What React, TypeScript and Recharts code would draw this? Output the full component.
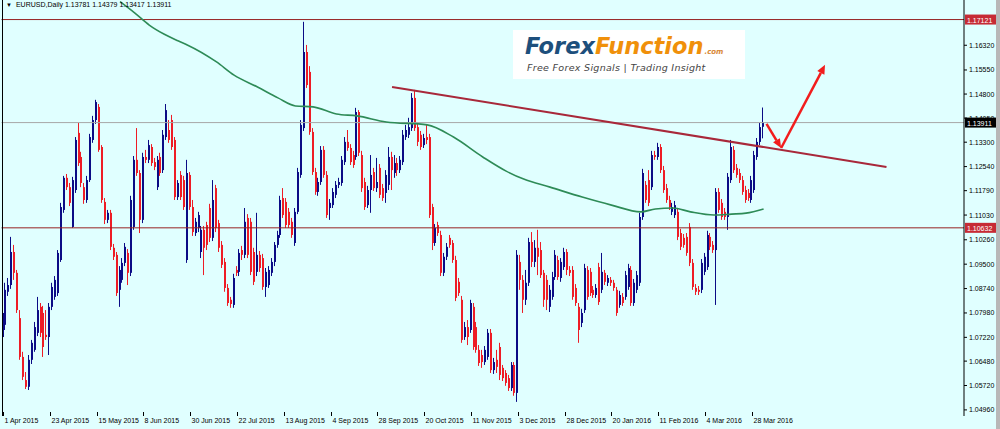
import { Bar, ComposedChart, Line, ReferenceLine, XAxis, YAxis } from "recharts";

// EURUSD daily, 1 Apr 2015 .. 1 Apr 2016 (one entry per trading day)
const OPEN = [
  1.0723, 1.0761, 1.0864, 1.0885, 1.0988, 1.0923, 1.0782, 1.0661, 1.0589, 1.0568,
  1.0652, 1.0683, 1.0736, 1.0817, 1.0798, 1.0730, 1.0723, 1.0817, 1.0848, 1.0860,
  1.0963, 1.1119, 1.1219, 1.1190, 1.1066, 1.1181, 1.1359, 1.1284, 1.1190, 1.1150,
  1.1212, 1.1337, 1.1399, 1.1440, 1.1315, 1.1144, 1.1088, 1.1110, 1.1001, 1.0979,
  1.0870, 1.0901, 1.0954, 1.0985, 1.0923, 1.1066, 1.1275, 1.1234, 1.1088, 1.1284,
  1.1275, 1.1315, 1.1268, 1.1190, 1.1284, 1.1243, 1.1346, 1.1368, 1.1399, 1.1337,
  1.1159, 1.1228, 1.1212, 1.0963, 1.1228, 1.1128, 1.1047, 1.1063, 1.0988, 1.1057,
  1.1072, 1.1125, 1.1032, 1.1187, 1.1078, 1.1010, 1.0957, 1.0876, 1.0839, 1.0823,
  1.0932, 1.0926, 1.0994, 1.0979, 1.1094, 1.1082, 1.0988, 1.0926, 1.0979, 1.0969,
  1.0879, 1.0885, 1.0923, 1.0957, 1.1010, 1.1041, 1.1156, 1.1144, 1.1113, 1.1082,
  1.1016, 1.1113, 1.1228, 1.1374, 1.1611, 1.1549, 1.1362, 1.1237, 1.1175, 1.1206,
  1.1306, 1.1228, 1.1125, 1.1134, 1.1166, 1.1197, 1.1203, 1.1268, 1.1331, 1.1312,
  1.1290, 1.1284, 1.1424, 1.1290, 1.1206, 1.1134, 1.1181, 1.1237, 1.1187, 1.1250,
  1.1187, 1.1172, 1.1197, 1.1284, 1.1234, 1.1265, 1.1243, 1.1268, 1.1346, 1.1353,
  1.1374, 1.1468, 1.1377, 1.1353, 1.1321, 1.1346, 1.1346, 1.1128, 1.1016, 1.1072,
  1.1041, 1.0923, 1.0973, 1.1032, 1.1016, 1.0963, 1.0895, 1.0839, 1.0723, 1.0754,
  1.0745, 1.0817, 1.0754, 1.0683, 1.0667, 1.0645, 1.0661, 1.0736, 1.0620, 1.0652,
  1.0692, 1.0627, 1.0611, 1.0595, 1.0564, 1.0636, 1.0549, 1.0957, 1.0901, 1.0839,
  1.0892, 1.1019, 1.0957, 1.1001, 1.0994, 1.0923, 1.0901, 1.0817, 1.0848, 1.0910,
  1.0963, 1.0907, 1.0941, 1.0988, 1.0932, 1.0932, 1.0876, 1.0817, 1.0767, 1.0807,
  1.0932, 1.0926, 1.0870, 1.0854, 1.0941, 1.0870, 1.0923, 1.0892, 1.0901, 1.0892,
  1.0870, 1.0823, 1.0848, 1.0848, 1.0879, 1.0932, 1.0829, 1.0870, 1.0892, 1.1097,
  1.1197, 1.1212, 1.1190, 1.1290, 1.1284, 1.1315, 1.1243, 1.1187, 1.1150, 1.1113,
  1.1103, 1.1113, 1.1047, 1.1032, 1.1035, 1.1066, 1.0954, 1.0876, 1.0870, 1.0870,
  1.0926, 1.0941, 1.1035, 1.1010, 1.0994, 1.1175, 1.1141, 1.1113, 1.1097, 1.1212,
  1.1306, 1.1250, 1.1234, 1.1212, 1.1181, 1.1172, 1.1150, 1.1181, 1.1284, 1.1331,
  1.1378,
];
const HIGH = [
  1.0807, 1.0892, 1.0907, 1.1035, 1.1010, 1.0932, 1.0807, 1.0677, 1.0614, 1.0667,
  1.0714, 1.0770, 1.0848, 1.0829, 1.0820, 1.0807, 1.0829, 1.0892, 1.0913, 1.0994,
  1.1141, 1.1225, 1.1231, 1.1203, 1.1222, 1.1346, 1.1390, 1.1300, 1.1203, 1.1225,
  1.1356, 1.1412, 1.1462, 1.1449, 1.1321, 1.1156, 1.1119, 1.1119, 1.1013, 1.0988,
  1.0944, 1.0969, 1.1016, 1.0997, 1.1163, 1.1287, 1.1374, 1.1243, 1.1297, 1.1306,
  1.1337, 1.1324, 1.1281, 1.1287, 1.1297, 1.1368, 1.1449, 1.1399, 1.1415, 1.1346,
  1.1212, 1.1240, 1.1225, 1.1275, 1.1237, 1.1150, 1.1094, 1.1113, 1.1069, 1.1069,
  1.1082, 1.1138, 1.1212, 1.1197, 1.1088, 1.1022, 1.0969, 1.0888, 1.0848, 1.0920,
  1.0944, 1.0997, 1.1007, 1.1125, 1.1106, 1.1094, 1.1001, 1.1110, 1.0991, 1.0982,
  1.0938, 1.0944, 1.0969, 1.1019, 1.1054, 1.1163, 1.1187, 1.1156, 1.1125, 1.1094,
  1.1125, 1.1250, 1.1399, 1.1705, 1.1633, 1.1567, 1.1374, 1.1250, 1.1219, 1.1318,
  1.1318, 1.1240, 1.1153, 1.1187, 1.1209, 1.1219, 1.1287, 1.1346, 1.1368, 1.1324,
  1.1303, 1.1437, 1.1430, 1.1303, 1.1219, 1.1194, 1.1290, 1.1250, 1.1281, 1.1262,
  1.1200, 1.1243, 1.1315, 1.1300, 1.1290, 1.1281, 1.1287, 1.1368, 1.1384, 1.1406,
  1.1483, 1.1493, 1.1387, 1.1365, 1.1356, 1.1384, 1.1356, 1.1138, 1.1075, 1.1082,
  1.1054, 1.0985, 1.1016, 1.1041, 1.1025, 1.0976, 1.0907, 1.0851, 1.0770, 1.0776,
  1.0839, 1.0829, 1.0770, 1.0698, 1.0683, 1.0695, 1.0748, 1.0748, 1.0658, 1.0683,
  1.0705, 1.0636, 1.0620, 1.0605, 1.0645, 1.0645, 1.0994, 1.0979, 1.0916, 1.0932,
  1.1032, 1.1050, 1.1025, 1.1057, 1.1019, 1.0932, 1.0916, 1.0885, 1.0926, 1.0994,
  1.0976, 1.0969, 1.1001, 1.0997, 1.0944, 1.0944, 1.0888, 1.0829, 1.0811, 1.0951,
  1.0944, 1.0938, 1.0882, 1.0888, 1.0954, 1.0985, 1.0932, 1.0916, 1.0910, 1.0901,
  1.0879, 1.0867, 1.0860, 1.0929, 1.0951, 1.0944, 1.0904, 1.0929, 1.1110, 1.1247,
  1.1209, 1.1243, 1.1303, 1.1303, 1.1328, 1.1324, 1.1256, 1.1200, 1.1163, 1.1141,
  1.1147, 1.1125, 1.1060, 1.1044, 1.1047, 1.1078, 1.0966, 1.0888, 1.0882, 1.0966,
  1.0985, 1.1054, 1.1047, 1.1022, 1.1187, 1.1187, 1.1153, 1.1125, 1.1234, 1.1337,
  1.1318, 1.1262, 1.1247, 1.1225, 1.1194, 1.1184, 1.1225, 1.1303, 1.1343, 1.1390,
  1.1438,
];
const LOW = [
  1.0714, 1.0745, 1.0851, 1.0873, 1.0901, 1.0798, 1.0652, 1.0589, 1.0561, 1.0558,
  1.0639, 1.0677, 1.0726, 1.0723, 1.0661, 1.0714, 1.0667, 1.0807, 1.0839, 1.0851,
  1.0957, 1.1110, 1.1181, 1.1131, 1.1063, 1.1172, 1.1256, 1.1190, 1.1138, 1.1141,
  1.1206, 1.1328, 1.1387, 1.1300, 1.1141, 1.1075, 1.1078, 1.0994, 1.0963, 1.0851,
  1.0817, 1.0892, 1.0944, 1.0885, 1.0913, 1.1057, 1.1225, 1.1047, 1.1078, 1.1265,
  1.1265, 1.1256, 1.1243, 1.1181, 1.1225, 1.1234, 1.1337, 1.1328, 1.1306, 1.1150,
  1.1150, 1.1150, 1.1119, 1.0954, 1.1119, 1.1038, 1.1038, 1.1050, 1.0969, 1.0916,
  1.0994, 1.1019, 1.1022, 1.1050, 1.0988, 1.0938, 1.0864, 1.0820, 1.0814, 1.0814,
  1.0913, 1.0913, 1.0963, 1.0969, 1.0969, 1.0916, 1.0885, 1.0913, 1.0926, 1.0870,
  1.0848, 1.0876, 1.0913, 1.0944, 1.1001, 1.1032, 1.1094, 1.1063, 1.1063, 1.1032,
  1.1007, 1.1106, 1.1219, 1.1365, 1.1499, 1.1353, 1.1228, 1.1166, 1.1163, 1.1197,
  1.1219, 1.1094, 1.1088, 1.1125, 1.1156, 1.1187, 1.1194, 1.1259, 1.1303, 1.1259,
  1.1250, 1.1275, 1.1287, 1.1175, 1.1119, 1.1125, 1.1110, 1.1178, 1.1175, 1.1156,
  1.1147, 1.1141, 1.1181, 1.1181, 1.1219, 1.1225, 1.1234, 1.1259, 1.1337, 1.1343,
  1.1365, 1.1365, 1.1318, 1.1306, 1.1312, 1.1324, 1.1094, 1.0994, 1.1007, 1.1038,
  1.0913, 1.0913, 1.0963, 1.1001, 1.0954, 1.0835, 1.0851, 1.0705, 1.0714, 1.0698,
  1.0736, 1.0683, 1.0674, 1.0633, 1.0627, 1.0636, 1.0652, 1.0611, 1.0608, 1.0611,
  1.0589, 1.0586, 1.0571, 1.0555, 1.0555, 1.0540, 1.0521, 1.0870, 1.0798, 1.0823,
  1.0882, 1.0941, 1.0941, 1.0916, 1.0907, 1.0817, 1.0807, 1.0801, 1.0839, 1.0901,
  1.0901, 1.0895, 1.0932, 1.0916, 1.0913, 1.0839, 1.0820, 1.0705, 1.0754, 1.0798,
  1.0839, 1.0851, 1.0845, 1.0845, 1.0823, 1.0860, 1.0885, 1.0882, 1.0882, 1.0867,
  1.0789, 1.0814, 1.0820, 1.0839, 1.0870, 1.0820, 1.0820, 1.0860, 1.0882, 1.1088,
  1.1141, 1.1131, 1.1181, 1.1275, 1.1275, 1.1234, 1.1172, 1.1141, 1.1119, 1.1103,
  1.1094, 1.1025, 1.0994, 1.1001, 1.0976, 1.0944, 1.0870, 1.0854, 1.0854, 1.0860,
  1.0916, 1.0932, 1.0994, 1.0985, 1.0823, 1.1110, 1.1088, 1.1088, 1.1057, 1.1203,
  1.1234, 1.1219, 1.1203, 1.1166, 1.1141, 1.1147, 1.1141, 1.1172, 1.1275, 1.1321,
  1.1342,
];
const CLOSE = [
  1.0798, 1.0870, 1.0885, 1.0988, 1.0923, 1.0807, 1.0661, 1.0599, 1.0568, 1.0652,
  1.0705, 1.0754, 1.0807, 1.0736, 1.0692, 1.0723, 1.0817, 1.0879, 1.0901, 1.0985,
  1.1128, 1.1219, 1.1190, 1.1141, 1.1212, 1.1337, 1.1265, 1.1203, 1.1150, 1.1212,
  1.1346, 1.1399, 1.1455, 1.1306, 1.1150, 1.1088, 1.1110, 1.1004, 1.0973, 1.0860,
  1.0932, 1.0954, 1.1004, 1.0923, 1.1150, 1.1275, 1.1234, 1.1088, 1.1284, 1.1275,
  1.1321, 1.1265, 1.1253, 1.1275, 1.1234, 1.1353, 1.1430, 1.1337, 1.1315, 1.1159,
  1.1203, 1.1159, 1.1128, 1.1234, 1.1128, 1.1050, 1.1082, 1.1103, 1.1057, 1.1001,
  1.1010, 1.1032, 1.1150, 1.1063, 1.1001, 1.0948, 1.0876, 1.0829, 1.0826, 1.0907,
  1.0923, 1.0985, 1.0979, 1.1082, 1.0979, 1.0926, 1.0895, 1.0979, 1.0938, 1.0879,
  1.0926, 1.0932, 1.0957, 1.1010, 1.1041, 1.1150, 1.1103, 1.1072, 1.1072, 1.1041,
  1.1113, 1.1237, 1.1384, 1.1611, 1.1508, 1.1362, 1.1237, 1.1175, 1.1206, 1.1306,
  1.1228, 1.1103, 1.1141, 1.1175, 1.1197, 1.1206, 1.1275, 1.1331, 1.1312, 1.1268,
  1.1259, 1.1424, 1.1297, 1.1187, 1.1128, 1.1181, 1.1228, 1.1187, 1.1206, 1.1166,
  1.1156, 1.1228, 1.1284, 1.1243, 1.1265, 1.1243, 1.1275, 1.1353, 1.1368, 1.1377,
  1.1468, 1.1374, 1.1331, 1.1315, 1.1343, 1.1337, 1.1103, 1.1016, 1.1063, 1.1047,
  1.0923, 1.0973, 1.1004, 1.1010, 1.0963, 1.0845, 1.0860, 1.0714, 1.0754, 1.0723,
  1.0829, 1.0692, 1.0683, 1.0642, 1.0645, 1.0683, 1.0736, 1.0620, 1.0645, 1.0630,
  1.0605, 1.0595, 1.0580, 1.0564, 1.0636, 1.0549, 1.0979, 1.0901, 1.0839, 1.0892,
  1.1019, 1.0957, 1.1001, 1.0973, 1.0916, 1.0839, 1.0839, 1.0870, 1.0910, 1.0979,
  1.0910, 1.0957, 1.0988, 1.0932, 1.0923, 1.0848, 1.0829, 1.0745, 1.0798, 1.0938,
  1.0848, 1.0860, 1.0854, 1.0876, 1.0832, 1.0926, 1.0895, 1.0907, 1.0892, 1.0876,
  1.0798, 1.0854, 1.0829, 1.0916, 1.0938, 1.0829, 1.0892, 1.0916, 1.1097, 1.1234,
  1.1150, 1.1141, 1.1290, 1.1284, 1.1315, 1.1243, 1.1181, 1.1150, 1.1128, 1.1128,
  1.1134, 1.1035, 1.1004, 1.1010, 1.0985, 1.0954, 1.0879, 1.0864, 1.0864, 1.0954,
  1.0973, 1.1041, 1.1004, 1.0994, 1.1175, 1.1119, 1.1097, 1.1097, 1.1222, 1.1315,
  1.1243, 1.1228, 1.1212, 1.1175, 1.1150, 1.1156, 1.1212, 1.1290, 1.1331, 1.1377,
  1.1391,
];

// moving average, read at a few bars
const MA_INDEX = [40, 45, 50, 55, 60, 63, 73, 79, 87, 94, 100, 106, 114, 121, 131, 145, 154, 164, 172, 178, 187, 198, 208, 218, 223, 229, 235, 243, 249, 254, 260];
const MA_VALUE = [1.1768, 1.1733, 1.1695, 1.1667, 1.1645, 1.1633, 1.158, 1.1539, 1.1502, 1.1468, 1.1443, 1.144, 1.1418, 1.1412, 1.1393, 1.1384, 1.1346, 1.1284, 1.124, 1.1215, 1.119, 1.1159, 1.1134, 1.1113, 1.1122, 1.1125, 1.1113, 1.1103, 1.1106, 1.1109, 1.1122];

const DATE_TICKS = [0, 16, 32, 48, 64, 80, 96, 112, 128, 144, 160, 176, 192, 208, 224, 240, 256];
const DATE_LABELS = ["1 Apr 2015", "23 Apr 2015", "15 May 2015", "8 Jun 2015", "30 Jun 2015", "22 Jul 2015", "13 Aug 2015", "4 Sep 2015", "28 Sep 2015", "20 Oct 2015", "11 Nov 2015", "3 Dec 2015", "28 Dec 2015", "20 Jan 2016", "11 Feb 2016", "4 Mar 2016", "28 Mar 2016"];
const PRICE_TICKS = [1.1632, 1.1555, 1.148, 1.1405, 1.133, 1.1254, 1.1179, 1.1103, 1.1026, 1.095, 1.0874, 1.0798, 1.0722, 1.0648, 1.0572, 1.0496];

const RESIST = 1.17121;
const SUPPORT = 1.10632;
const LAST = 1.13911;
const TREND = [{ x: 133, y: 1.1502 }, { x: 302, y: 1.1253 }];
const ARROW = [{ x: 261, y: 1.1387 }, { x: 266, y: 1.1312 }, { x: 281, y: 1.1571 }];

const SLOTS = 329; // bars plus empty space on the right
const BULL = "#0b0b85";
const BEAR = "#ee1c25";
const FONT = "'Liberation Sans', Arial, sans-serif";

const rows = Array.from({ length: SLOTS }, (_, i) => {
  const has = i < CLOSE.length;
  const m = MA_INDEX.indexOf(i);
  return {
    i,
    open: has ? OPEN[i] : null,
    high: has ? HIGH[i] : null,
    low: has ? LOW[i] : null,
    close: has ? CLOSE[i] : null,
    range: has ? [LOW[i], HIGH[i]] : null,
    ma: m >= 0 ? MA_VALUE[m] : null,
  };
});

const Candle = (props: any) => {
  const { x, y, width, height, payload } = props;
  if (!payload || payload.open == null || !isFinite(y) || !isFinite(height)) return <g />;
  const top = Math.min(y, y + height);
  const bottom = Math.max(y, y + height);
  const span = payload.high - payload.low;
  const toY = (v: number) => (span === 0 ? top : top + ((payload.high - v) / span) * (bottom - top));
  const cx = Math.round(x + width / 2);
  const color = payload.close >= payload.open ? BULL : BEAR;
  const yo = toY(payload.open);
  const yc = toY(payload.close);
  return (
    <g>
      <line x1={cx - 0.5} x2={cx - 0.5} y1={top} y2={bottom} stroke={color} strokeWidth={1} />
      <rect x={cx - 1} y={Math.min(yo, yc)} width={2} height={Math.max(1, Math.abs(yo - yc))} fill={color} />
    </g>
  );
};

const ArrowLine = (props: any) => {
  const { x1, y1, x2, y2, stroke } = props;
  const a = Math.atan2(y2 - y1, x2 - x1);
  const len = 9;
  const half = 4;
  const bx = x2 - len * Math.cos(a);
  const by = y2 - len * Math.sin(a);
  const pts = [
    [x2, y2],
    [bx + half * Math.sin(a), by - half * Math.cos(a)],
    [bx - half * Math.sin(a), by + half * Math.cos(a)],
  ];
  return (
    <g>
      <line x1={x1} y1={y1} x2={bx} y2={by} stroke={stroke} strokeWidth={2.5} />
      <polygon points={pts.map((p) => p.join(",")).join(" ")} fill={stroke} />
    </g>
  );
};

const priceTag = (value: string, fill: string) => (props: any) => {
  const vb = props.viewBox || {};
  const left = vb.x + vb.width + 1;
  return (
    <g>
      <rect x={left} y={vb.y - 5} width={32} height={10} fill={fill} />
      <text x={left + 2} y={vb.y + 3} fontSize={7} fontFamily={FONT} fill="#fff">
        {value}
      </text>
    </g>
  );
};

const DateTick = (props: any) => {
  const { x, y, payload } = props;
  const k = DATE_TICKS.indexOf(payload.value);
  if (k < 0) return <g />;
  const px = Math.round(x) + 0.5;
  return (
    <g>
      <line x1={px} x2={px} y1={y - 4} y2={y} stroke="#000" />
      <text x={px + 1} y={y + 6.5} fontSize={7} fontFamily={FONT} fill="#000">
        {DATE_LABELS[k]}
      </text>
    </g>
  );
};

export default function App() {
  return (
    <div style={{ position: "absolute", left: 0, top: 0, width: 1000, height: 429, background: "#e0ffff", overflow: "hidden" }}>
      <ComposedChart width={1000} height={429} data={rows} margin={{ top: 0, right: 0, bottom: 0, left: 1.5 }}>
        <XAxis dataKey="i" type="category" ticks={DATE_TICKS} interval={0} tick={<DateTick />} axisLine={false} tickLine={false} tickSize={0} tickMargin={0} height={13} />
        <YAxis
          orientation="right"
          type="number"
          domain={[1.0477, 1.1773]}
          allowDataOverflow
          ticks={PRICE_TICKS}
          interval={0}
          width={36}
          tickSize={3}
          tickFormatter={(v: number) => v.toFixed(5)}
          tick={{ fontSize: 7, fill: "#000", fontFamily: FONT }}
          tickLine={{ stroke: "#000" }}
          axisLine={{ stroke: "#000" }}
        />
        <ReferenceLine y={LAST} stroke="#a8a8a8" strokeWidth={1} label={priceTag(LAST.toFixed(5), "#000")} />
        <ReferenceLine y={RESIST} stroke="#952222" strokeWidth={1} label={priceTag(RESIST.toFixed(5), "#c62b35")} />
        <ReferenceLine y={SUPPORT} stroke="#952222" strokeWidth={1} label={priceTag(SUPPORT.toFixed(5), "#c62b35")} />
        <Bar dataKey="range" barSize={2} shape={Candle} isAnimationActive={false} />
        <Line dataKey="ma" type="monotone" stroke="#2e8b57" strokeWidth={1.6} dot={false} connectNulls isAnimationActive={false} />
        <ReferenceLine segment={TREND} stroke="#a8283a" strokeWidth={2} />
        <ReferenceLine segment={[ARROW[0], ARROW[1]]} stroke="#f21d1d" shape={ArrowLine} />
        <ReferenceLine segment={[ARROW[1], ARROW[2]]} stroke="#f21d1d" shape={ArrowLine} />
      </ComposedChart>

      <div style={{ position: "absolute", left: 2, top: 0, width: 1, height: 416, background: "#000" }} />
      <div style={{ position: "absolute", left: 996, top: 0, width: 4, height: 429, background: "#b8b8b8" }} />

      <div style={{ position: "absolute", left: 6, top: 1, fontFamily: FONT, fontSize: 7, color: "#000", whiteSpace: "nowrap" }}>
        <span style={{ fontSize: 6, marginRight: 4 }}>▼</span>
        EURUSD,Daily 1.13781 1.14379 1.13417 1.13911
      </div>

      <div style={{ position: "absolute", left: 513, top: 30, width: 232, height: 49, background: "#fff" }}>
        <div style={{ position: "absolute", left: 12, top: 2, fontFamily: "'DejaVu Sans', sans-serif", fontWeight: 700, fontStyle: "italic", fontSize: 22.5, whiteSpace: "nowrap", transform: "scaleY(1.05)", transformOrigin: "left top" }}>
          <span style={{ color: "#1d4f7c" }}>Forex</span>
          <span style={{ color: "#f0900a" }}>Function</span>
          <span style={{ color: "#d9893a", fontSize: 7, marginLeft: 1 }}>.com</span>
        </div>
        <div style={{ position: "absolute", left: 14, top: 32, fontFamily: "'DejaVu Sans', sans-serif", fontStyle: "italic", fontSize: 9.5, color: "#444", whiteSpace: "nowrap", letterSpacing: 0.3 }}>
          Free Forex Signals | Trading Insight
        </div>
      </div>
    </div>
  );
}
